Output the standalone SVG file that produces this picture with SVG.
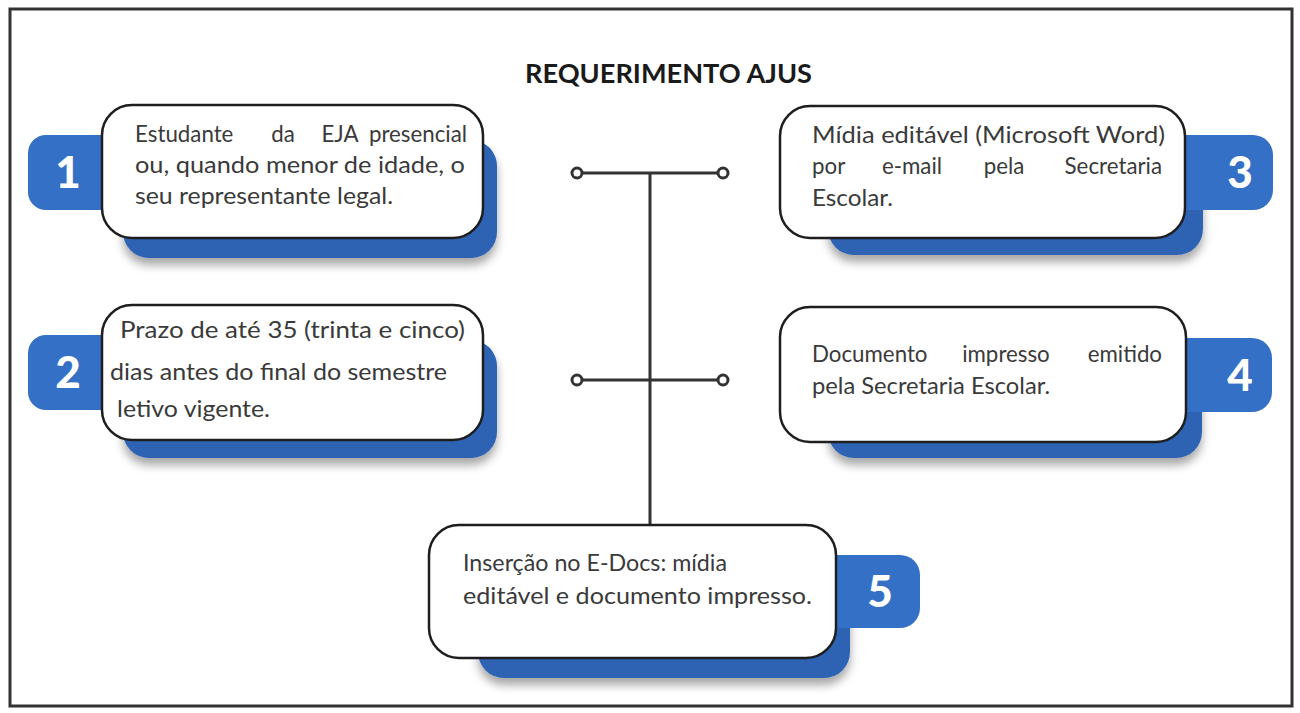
<svg xmlns="http://www.w3.org/2000/svg" width="1300" height="713" viewBox="0 0 1300 713">
<defs>
<filter id="ds" x="-10%" y="-20%" width="120%" height="150%">
<feDropShadow dx="0" dy="7" stdDeviation="5" flood-color="#000" flood-opacity="0.35"/>
</filter>
<style>
.frame{fill:#fff;stroke:#333;stroke-width:3}
.sh{fill:#2f64b4;filter:url(#ds)}
.badge{fill:#3370c6}
.box{fill:#fff;stroke:#1e1e1e;stroke-width:2.5}
.t{font-family:Lato,"Open Sans",sans-serif;font-size:24px;fill:#3a3a3a}
.m{text-anchor:middle}
.e{text-anchor:end}
.num{font-family:Lato,"Open Sans",sans-serif;font-size:44px;font-weight:900;fill:#fff;text-anchor:middle}
.title{font-family:Lato,"Open Sans",sans-serif;font-size:27px;font-weight:bold;fill:#1a1a1a}
.ln{stroke:#333;stroke-width:3;fill:none}
.dot{fill:#fff;stroke:#333;stroke-width:3}
</style>
</defs>
<rect class="frame" x="10" y="9" width="1282" height="697"/>
<text class="title" x="525" y="83" textLength="287" lengthAdjust="spacingAndGlyphs">REQUERIMENTO AJUS</text>

<g id="connectors">
<line class="ln" x1="577" y1="173" x2="723" y2="173"/>
<line class="ln" x1="577" y1="380" x2="723" y2="380"/>
<line class="ln" x1="650" y1="173" x2="650" y2="526"/>
<circle class="dot" cx="577" cy="173" r="5"/>
<circle class="dot" cx="723" cy="173" r="5"/>
<circle class="dot" cx="577" cy="380" r="5"/>
<circle class="dot" cx="723" cy="380" r="5"/>
</g>

<g id="node1">
<rect class="sh" x="123" y="140" width="374" height="118" rx="26"/>
<rect class="badge" x="28" y="135" width="110" height="75" rx="18"/>
<rect class="box" x="102" y="105" width="381" height="133" rx="30"/>
<text class="num" x="68" y="188">1</text>
<g transform="scale(0.93,1)">
<text class="t" x="145.2" y="142">Estudante</text>
<text class="t m" x="304.3" y="142">da</text>
<text class="t m" x="365.6" y="142">EJA</text>
<text class="t e" x="502.2" y="142">presencial</text>
</g>
<text class="t" x="135" y="173" textLength="330" lengthAdjust="spacingAndGlyphs">ou, quando menor de idade, o</text>
<text class="t" x="135" y="204" textLength="258" lengthAdjust="spacingAndGlyphs">seu representante legal.</text>
</g>

<g id="node2">
<rect class="sh" x="123" y="340" width="374" height="118" rx="26"/>
<rect class="badge" x="28" y="335" width="110" height="75" rx="18"/>
<rect class="box" x="102" y="305" width="381" height="135" rx="30"/>
<text class="num" x="68" y="388">2</text>
<text class="t" x="120" y="338" textLength="345" lengthAdjust="spacingAndGlyphs">Prazo de até 35 (trinta e cinco)</text>
<text class="t" x="110" y="380" textLength="337" lengthAdjust="spacingAndGlyphs">dias antes do final do semestre</text>
<text class="t" x="117" y="417" textLength="153" lengthAdjust="spacingAndGlyphs">letivo vigente.</text>
</g>

<g id="node3">
<rect class="sh" x="828" y="140" width="375" height="115" rx="26"/>
<rect class="badge" x="1160" y="135" width="113" height="75" rx="20"/>
<rect class="box" x="780" y="106" width="405" height="132" rx="30"/>
<text class="num" x="1240" y="188">3</text>
<text class="t" x="812" y="143" textLength="353" lengthAdjust="spacingAndGlyphs">Mídia editável (Microsoft Word)</text>
<g transform="scale(0.93,1)">
<text class="t" x="873.1" y="174">por</text>
<text class="t m" x="980.6" y="174">e-mail</text>
<text class="t m" x="1079.6" y="174">pela</text>
<text class="t e" x="1249.5" y="174">Secretaria</text>
</g>
<text class="t" x="812" y="206" textLength="81" lengthAdjust="spacingAndGlyphs">Escolar.</text>
</g>

<g id="node4">
<rect class="sh" x="828" y="340" width="374" height="118" rx="26"/>
<rect class="badge" x="1160" y="338" width="112" height="74" rx="20"/>
<rect class="box" x="780" y="307" width="406" height="135" rx="30"/>
<text class="num" x="1240" y="391">4</text>
<g transform="scale(0.93,1)">
<text class="t" x="873.1" y="362">Documento</text>
<text class="t m" x="1081.7" y="362">impresso</text>
<text class="t e" x="1249.5" y="362">emitido</text>
</g>
<text class="t" x="812" y="394" textLength="238" lengthAdjust="spacingAndGlyphs">pela Secretaria Escolar.</text>
</g>

<g id="node5">
<rect class="sh" x="478" y="560" width="372" height="118" rx="26"/>
<rect class="badge" x="810" y="555" width="110" height="73" rx="20"/>
<rect class="box" x="429" y="525" width="407" height="133" rx="30"/>
<text class="num" x="880" y="607">5</text>
<text class="t" x="463" y="571" textLength="264" lengthAdjust="spacingAndGlyphs">Inserção no E-Docs: mídia</text>
<text class="t" x="463" y="604" textLength="349" lengthAdjust="spacingAndGlyphs">editável e documento impresso.</text>
</g>
</svg>
